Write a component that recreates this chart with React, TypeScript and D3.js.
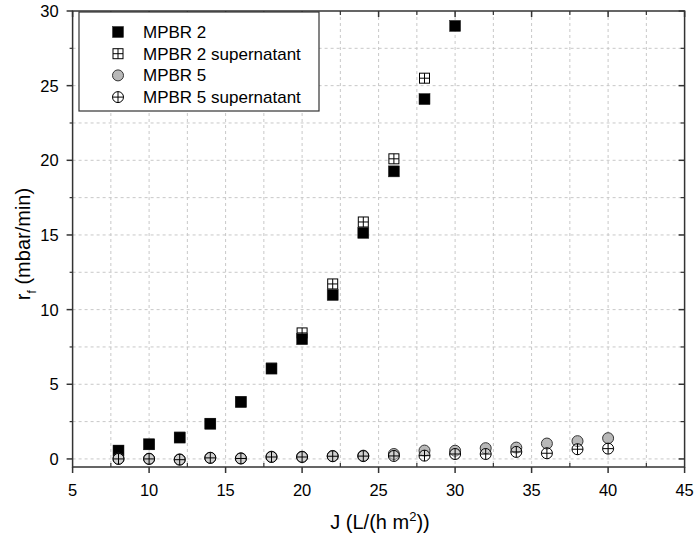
import React from "react";
import * as d3 from "d3";

const xMPBR2 = [8, 10, 12, 14, 16, 18, 20, 22, 24, 26, 28, 30];
const yMPBR2 = [0.56, 0.98, 1.43, 2.36, 3.82, 6.05, 8.02, 10.98, 15.14, 19.26, 24.1, 29.0];
const xMPBR2sup = [8, 10, 12, 14, 16, 18, 20, 22, 24, 26, 28];
const yMPBR2sup = [0.56, 0.98, 1.45, 2.36, 3.82, 6.08, 8.44, 11.72, 15.87, 20.1, 25.5];
const xMPBR5 = [8, 10, 12, 14, 16, 18, 20, 22, 24, 26, 28, 30, 32, 34, 36, 38, 40];
const yMPBR5 = [0.02, 0.02, -0.03, 0.08, 0.04, 0.15, 0.15, 0.2, 0.22, 0.33, 0.56, 0.55, 0.72, 0.76, 1.03, 1.19, 1.39];
const xMPBR5sup = [8, 10, 12, 14, 16, 18, 20, 22, 24, 26, 28, 30, 32, 34, 36, 38, 40];
const yMPBR5sup = [0.0, 0.0, -0.05, 0.07, 0.03, 0.13, 0.13, 0.18, 0.19, 0.2, 0.22, 0.33, 0.33, 0.47, 0.38, 0.65, 0.69];

const xTicks = [5, 10, 15, 20, 25, 30, 35, 40, 45];
const yTicks = [0, 5, 10, 15, 20, 25, 30];
const legendLabels = ["MPBR 2", "MPBR 2 supernatant", "MPBR 5", "MPBR 5 supernatant"];

const FONT = "Liberation Sans, Arial, sans-serif";

function Marker({ kind, x, y }: { kind: number; x: number; y: number }) {
  if (kind === 0) {
    return <rect x={x - 5.5} y={y - 5.5} width={11} height={11} fill="#000" stroke="#222" strokeWidth={0.5} />;
  }
  if (kind === 1) {
    return (
      <g>
        <rect x={x - 5} y={y - 5} width={10} height={10} fill="#fff" stroke="#000" strokeWidth={1} />
        <line x1={x} x2={x} y1={y - 5} y2={y + 5} stroke="#000" strokeWidth={1} />
        <line x1={x - 5} x2={x + 5} y1={y} y2={y} stroke="#000" strokeWidth={1} />
      </g>
    );
  }
  if (kind === 2) {
    return <circle cx={x} cy={y} r={5.5} fill="#b8b8b8" stroke="#333" strokeWidth={1} />;
  }
  return (
    <g>
      <circle cx={x} cy={y} r={5.5} fill="#fff" fillOpacity={0.35} stroke="#000" strokeWidth={1} />
      <line x1={x} x2={x} y1={y - 5.5} y2={y + 5.5} stroke="#000" strokeWidth={1} />
      <line x1={x - 5.5} x2={x + 5.5} y1={y} y2={y} stroke="#000" strokeWidth={1} />
    </g>
  );
}

export default function App() {
  const W = 697;
  const H = 538;
  const left = 72.6;
  const right = 684.6;
  const top = 11;
  const bottom = 467;
  const x = d3.scaleLinear().domain([5, 45]).range([left, right]);
  const y = d3.scaleLinear().domain([-0.54, 30]).range([bottom, top]);

  const xGrid = d3.range(7.5, 45, 2.5);
  const yGrid = d3.range(0, 30, 2.5);
  const xMinor = d3.range(7.5, 45, 5);
  const yMinor = d3.range(2.5, 30, 5);

  // draw order: supernatant squares, squares, grey circles, supernatant circles
  const series = [
    { xs: xMPBR2sup, ys: yMPBR2sup, kind: 1 },
    { xs: xMPBR2, ys: yMPBR2, kind: 0 },
    { xs: xMPBR5, ys: yMPBR5, kind: 2 },
    { xs: xMPBR5sup, ys: yMPBR5sup, kind: 3 },
  ];

  const axisColor = "#333";

  return (
    <svg width={W} height={H} style={{ position: "absolute", left: 0, top: 0, background: "#fff" }}>
      <rect x={0} y={0} width={W} height={H} fill="#fff" />
      {/* grid */}
      {xGrid.map((v) => (
        <line key={"gx" + v} x1={x(v)} x2={x(v)} y1={top} y2={bottom} stroke="#c8c8c8" strokeWidth={1} strokeDasharray="3,3" />
      ))}
      {yGrid.map((v) => (
        <line key={"gy" + v} x1={left} x2={right} y1={y(v)} y2={y(v)} stroke="#c8c8c8" strokeWidth={1} strokeDasharray="3,3" />
      ))}
      {/* frame */}
      <rect x={left} y={top} width={right - left} height={bottom - top} fill="none" stroke={axisColor} strokeWidth={1.5} />
      {xTicks.map((v) => (
        <g key={"xt" + v}>
          <line x1={x(v)} x2={x(v)} y1={bottom} y2={bottom + 6} stroke={axisColor} strokeWidth={1.5} />
          <line x1={x(v)} x2={x(v)} y1={top} y2={top + 6} stroke={axisColor} strokeWidth={1.5} />
          <text x={x(v)} y={bottom + 29} textAnchor="middle" fontFamily={FONT} fontSize={16.5} fill="#000">
            {v}
          </text>
        </g>
      ))}
      {xMinor.map((v) => (
        <g key={"xm" + v}>
          <line x1={x(v)} x2={x(v)} y1={bottom} y2={bottom - 4} stroke={axisColor} strokeWidth={1.2} />
          <line x1={x(v)} x2={x(v)} y1={top} y2={top + 4} stroke={axisColor} strokeWidth={1.2} />
        </g>
      ))}
      {yTicks.map((v) => (
        <g key={"yt" + v}>
          <line x1={left - 6} x2={left} y1={y(v)} y2={y(v)} stroke={axisColor} strokeWidth={1.5} />
          <line x1={right - 6} x2={right} y1={y(v)} y2={y(v)} stroke={axisColor} strokeWidth={1.5} />
          <text x={left - 14} y={y(v) + 6} textAnchor="end" fontFamily={FONT} fontSize={16.5} fill="#000">
            {v}
          </text>
        </g>
      ))}
      {yMinor.map((v) => (
        <g key={"ym" + v}>
          <line x1={left - 3} x2={left} y1={y(v)} y2={y(v)} stroke={axisColor} strokeWidth={1.2} />
          <line x1={right - 4} x2={right} y1={y(v)} y2={y(v)} stroke={axisColor} strokeWidth={1.2} />
        </g>
      ))}
      {/* data */}
      {series.map((s, si) =>
        s.xs.map((xv, i) => <Marker key={si + "-" + i} kind={s.kind} x={x(xv)} y={y(s.ys[i])} />)
      )}
      {/* legend */}
      <rect x={79} y={12} width={240} height={99} fill="#fff" stroke={axisColor} strokeWidth={1.2} />
      {legendLabels.map((lab, i) => (
        <g key={"lg" + i}>
          <Marker kind={i} x={118} y={32 + i * 21.7} />
          <text x={143} y={32 + i * 21.7 + 6} fontFamily={FONT} fontSize={17} fill="#000">
            {lab}
          </text>
        </g>
      ))}
      {/* axis titles */}
      <text x={380} y={529} textAnchor="middle" fontFamily={FONT} fontSize={20} fill="#000">
        J (L/(h m<tspan dy={-8} fontSize={13}>2</tspan>
        <tspan dy={8}>))</tspan>
      </text>
      <text transform={`translate(30, ${(top + bottom) / 2 + 5}) rotate(-90)`} textAnchor="middle" fontFamily={FONT} fontSize={20} fill="#000">
        r<tspan dy={6} fontSize={12}>f</tspan>
        <tspan dy={-6}> (mbar/min)</tspan>
      </text>
    </svg>
  );
}
